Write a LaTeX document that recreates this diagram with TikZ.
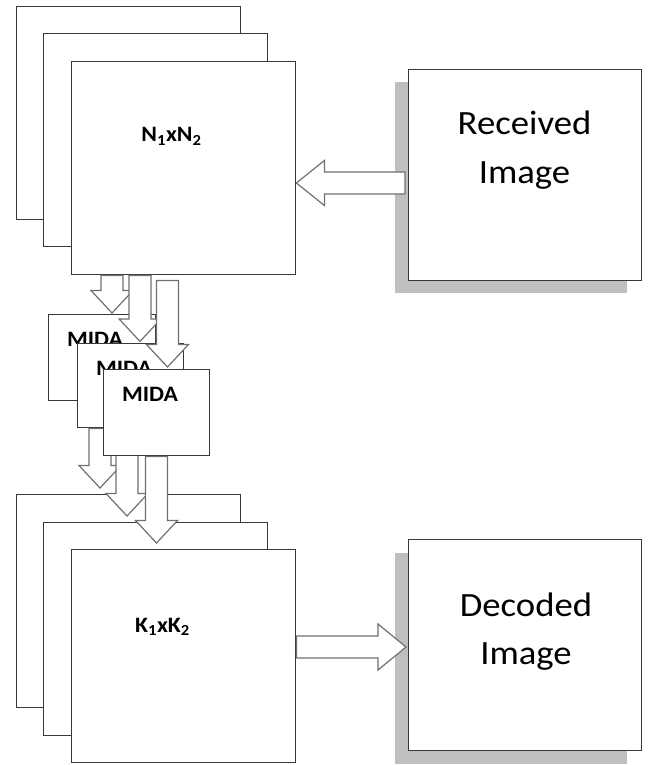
\documentclass[tikz,border=0pt]{standalone}
\usepackage{fontspec}
\setmainfont{Carlito}[FakeStretch=1.08]
\usetikzlibrary{calc}
\definecolor{boxline}{HTML}{383838}
\definecolor{arrline}{HTML}{707070}
\definecolor{shadowgray}{HTML}{BFBFBF}
\tikzset{
  panel/.style={draw=boxline, line width=1.4pt, fill=white, rectangle, inner sep=0pt, anchor=north west},
  shadowbox/.style={fill=shadowgray, draw=none, rectangle, inner sep=0pt, anchor=north west},
  barrow/.style={draw=arrline, line width=1.2pt, fill=white, line join=miter},
  smalllabel/.style={font=\bfseries\fontsize{22}{26}\selectfont, anchor=base, inner sep=0pt},
  biglabel/.style={font=\fontsize{34}{40}\selectfont, anchor=base, inner sep=0pt},
}
\newcommand\downarr[2]{\path[barrow] let \p1=(#1), \p2=(#2) in
  (\x1-11pt,\y1) -- (\x1+11pt,\y1) -- (\x1+11pt,\y2+22.5pt) -- (\x1+21pt,\y2+22.5pt)
  -- (\x1,\y2) -- (\x1-21pt,\y2+22.5pt) -- (\x1-11pt,\y2+22.5pt) -- cycle;}
\newcommand\leftarr[2]{\path[barrow] let \p1=(#1), \p2=(#2) in
  (\x1,\y1+11pt) -- (\x2+28pt,\y1+11pt) -- (\x2+28pt,\y1+22.5pt) -- (\x2,\y1)
  -- (\x2+28pt,\y1-22.5pt) -- (\x2+28pt,\y1-11pt) -- (\x1,\y1-11pt) -- cycle;}
\newcommand\rightarr[2]{\path[barrow] let \p1=(#1), \p2=(#2) in
  (\x1,\y1+11pt) -- (\x2-28pt,\y1+11pt) -- (\x2-28pt,\y1+23pt) -- (\x2,\y1)
  -- (\x2-28pt,\y1-23pt) -- (\x2-28pt,\y1-11pt) -- (\x1,\y1-11pt) -- cycle;}
\begin{document}
\begin{tikzpicture}[x=1pt,y=-1pt]
\useasboundingbox (0,0) rectangle (650,765);

% top stack
\node[panel, minimum width=224pt, minimum height=213pt] (top1) at (16,6) {};
\node[panel, minimum width=224pt, minimum height=213pt] (top2) at (43,33) {};
\node[panel, minimum width=224pt, minimum height=213pt] (top3) at (71,61) {};
\node[smalllabel] (ntext) at (171.5,142) {N\textsubscript{1}xN\textsubscript{2}};

% received image
\node[shadowbox, minimum width=232pt, minimum height=211pt] (recvshadow) at (395,82) {};
\node[panel, minimum width=233pt, minimum height=211pt] (recv) at (408,69) {};
\node[biglabel] (recvtext1) at (524.5,135) {Received};
\node[biglabel] (recvtext2) at (524.5,183) {Image};
\coordinate (la1) at ($(recv.north west)+(-3,114)$);
\coordinate (la2) at (top3.east |- la1);
\leftarr{la1}{la2}

% bottom stack (back two)
\node[panel, minimum width=224pt, minimum height=213pt] (bot1) at (16,494) {};
\node[panel, minimum width=224pt, minimum height=213pt] (bot2) at (43,522) {};

% MIDA blocks and arrows
\node[panel, minimum width=107pt, minimum height=86pt] (m1) at (48,314) {};
\node[smalllabel] (m1text) at (95,346) {MIDA};
\coordinate (a1s) at ($(top3.south west)+(41,0)$);
\coordinate (a1t) at ($(a1s |- m1.north)+(0,-1)$);
\downarr{a1s}{a1t}
\coordinate (a2s) at ($(top3.south west)+(69,0)$);
\coordinate (a2t) at ($(a2s |- top3.south)+(0,66)$);
\downarr{a2s}{a2t}

\node[panel, minimum width=106pt, minimum height=84pt] (m2) at (77,343) {};
\node[smalllabel] (m2text) at (124,375) {MIDA};
\coordinate (a3s) at ($(top3.south west)+(96.5,5)$);
\coordinate (a3t) at ($(a3s |- m2.north)+(0,24)$);
\downarr{a3s}{a3t}

\coordinate (b1s) at ($(m2.south west)+(23,0)$);
\coordinate (b1t) at ($(b1s |- bot1.north)+(0,-6)$);
\downarr{b1s}{b1t}
\coordinate (b2s) at ($(m2.south west)+(50,0)$);
\coordinate (b2t) at ($(b2s |- bot2.north)+(0,-6)$);
\downarr{b2s}{b2t}

\node[panel, minimum width=106pt, minimum height=86pt] (m3) at (103,369) {};
\node[smalllabel] (m3text) at (150,401) {MIDA};
\coordinate (b3s) at ($(m3.south west)+(53.5,0)$);
\coordinate (b3t) at ($(b3s |- bot2.north)+(0,21)$);
\downarr{b3s}{b3t}

% bottom stack front
\node[panel, minimum width=224pt, minimum height=213pt] (bot3) at (71,549) {};
\node[smalllabel] (ktext) at (162.5,632) {K\textsubscript{1}xK\textsubscript{2}};

% decoded image
\node[shadowbox, minimum width=232pt, minimum height=211pt] (decshadow) at (395,553) {};
\node[panel, minimum width=233pt, minimum height=211pt] (dec) at (408,539) {};
\node[biglabel] (dectext1) at (526,616) {Decoded};
\node[biglabel] (dectext2) at (526,664) {Image};
\coordinate (ra1) at ($(bot3.north east)+(0,98)$);
\coordinate (ra2) at ($(dec.west |- ra1)+(-2,0)$);
\rightarr{ra1}{ra2}
\end{tikzpicture}
\end{document}
